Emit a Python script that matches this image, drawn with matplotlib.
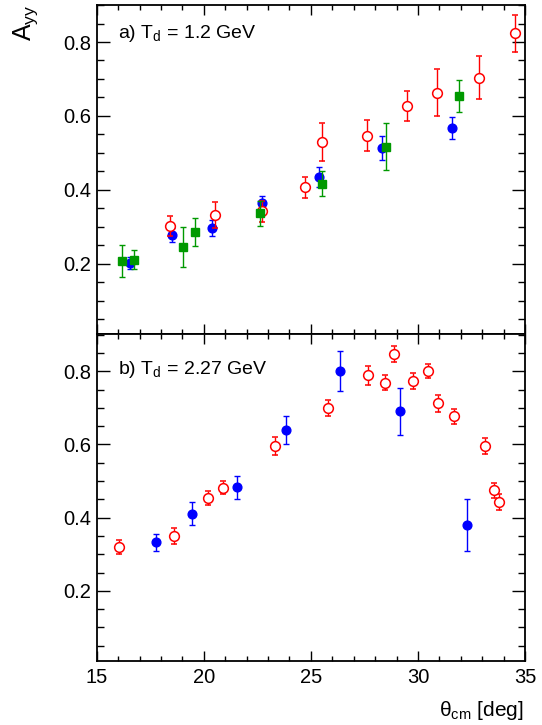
import matplotlib
matplotlib.use('Agg')
import matplotlib.pyplot as plt
from matplotlib.ticker import MultipleLocator

plt.rcParams['font.family'] = ['Liberation Sans', 'DejaVu Sans']
plt.rcParams['mathtext.fontset'] = 'custom'
plt.rcParams['mathtext.rm'] = 'Liberation Sans'
plt.rcParams['mathtext.it'] = 'Liberation Sans'
plt.rcParams['mathtext.bf'] = 'Liberation Sans:bold'

# ---------------- data: panel a) T_d = 1.2 GeV ----------------
a_blue_theta = [16.55, 18.52, 20.40, 22.70, 25.39, 28.32, 31.57]
a_blue_ayy = [0.202, 0.278, 0.296, 0.363, 0.434, 0.514, 0.567]
a_blue_err = [0.016, 0.020, 0.021, 0.021, 0.027, 0.033, 0.029]

a_red_theta = [18.44, 20.51, 22.70, 24.72, 25.53, 27.60, 29.50, 30.89, 32.86, 34.53]
a_red_ayy = [0.302, 0.331, 0.342, 0.407, 0.529, 0.546, 0.627, 0.663, 0.703, 0.824]
a_red_err = [0.028, 0.035, 0.028, 0.029, 0.052, 0.042, 0.041, 0.064, 0.058, 0.050]

a_green_theta = [16.20, 16.76, 19.04, 19.59, 22.61, 25.50, 28.51, 31.91]
a_green_ayy = [0.207, 0.211, 0.245, 0.287, 0.336, 0.417, 0.517, 0.654]
a_green_err = [0.044, 0.025, 0.054, 0.038, 0.034, 0.035, 0.063, 0.044]

# ---------------- data: panel b) T_d = 2.27 GeV ----------------
b_red_theta = [16.03, 18.62, 20.18, 20.91, 23.31, 25.78, 27.65, 28.46, 28.88,
               29.78, 30.45, 30.95, 31.68, 33.11, 33.56, 33.78]
b_red_ayy = [0.320, 0.349, 0.454, 0.482, 0.596, 0.700, 0.789, 0.769, 0.846,
             0.773, 0.801, 0.712, 0.677, 0.596, 0.475, 0.442]
b_red_err = [0.019, 0.022, 0.020, 0.018, 0.024, 0.021, 0.026, 0.020, 0.022,
             0.021, 0.020, 0.022, 0.020, 0.022, 0.020, 0.022]

b_blue_theta = [17.75, 19.46, 21.54, 23.84, 26.37, 29.15, 32.30]
b_blue_ayy = [0.333, 0.411, 0.483, 0.639, 0.800, 0.691, 0.380]
b_blue_err = [0.023, 0.032, 0.032, 0.039, 0.055, 0.064, 0.071]

panel_labels = [r'a) T$_{\rm d}$ = 1.2 GeV', r'b) T$_{\rm d}$ = 2.27 GeV']
xlabel = r'θ$_{\rm cm}$ [deg]'
ylabel = r'A$_{\rm yy}$'

RED = '#ff0000'
BLUE = '#0000ff'
GREEN = '#009900'

fig = plt.figure(figsize=(5.42, 7.25), dpi=100)
L, R = 96.7 / 542, 525 / 542
ax_a = fig.add_axes([L, 1 - 334.3 / 725, R - L, (334.3 - 4.7) / 725])
ax_b = fig.add_axes([L, 1 - 660.7 / 725, R - L, (660.7 - 334.3) / 725])


def draw_blue(ax, x, y, e):
    ax.errorbar(x, y, yerr=e, fmt='o', color=BLUE, ms=6.3, mec=BLUE, mfc=BLUE,
                elinewidth=1.0, capsize=2.2, capthick=1.0, zorder=3)


def draw_red(ax, x, y, e):
    ax.errorbar(x, y, yerr=e, fmt='o', color=RED, ms=7.0, mec=RED, mfc='white',
                mew=1.1, elinewidth=1.0, capsize=2.2, capthick=1.0, zorder=4)


def draw_green(ax, x, y, e):
    ax.errorbar(x, y, yerr=e, fmt='s', color=GREEN, ms=6.0, mec=GREEN, mfc=GREEN,
                elinewidth=1.0, capsize=2.2, capthick=1.0, zorder=5)


draw_blue(ax_a, a_blue_theta, a_blue_ayy, a_blue_err)
draw_red(ax_a, a_red_theta, a_red_ayy, a_red_err)
draw_green(ax_a, a_green_theta, a_green_ayy, a_green_err)

draw_red(ax_b, b_red_theta, b_red_ayy, b_red_err)
draw_blue(ax_b, b_blue_theta, b_blue_ayy, b_blue_err)

for ax, lab, ty in [(ax_a, panel_labels[0], 0.899), (ax_b, panel_labels[1], 0.8775)]:
    ax.set_xlim(15, 35)
    ax.set_ylim(0.009, 0.901)
    ax.xaxis.set_major_locator(MultipleLocator(5))
    ax.xaxis.set_minor_locator(MultipleLocator(1))
    ax.yaxis.set_major_locator(MultipleLocator(0.2))
    ax.yaxis.set_minor_locator(MultipleLocator(0.05))
    ax.tick_params(which='both', direction='in', top=True, right=True,
                   width=1.0, labelsize=14.5)
    ax.tick_params(axis='y', which='major', length=9.5, pad=4)
    ax.tick_params(axis='y', which='minor', length=5)
    ax.tick_params(axis='x', which='major', length=7.2, pad=5)
    ax.tick_params(axis='x', which='minor', length=3.6)
    ax.yaxis.set_major_formatter(matplotlib.ticker.FuncFormatter(lambda v, p: f'{v:.1f}'))
    for s in ax.spines.values():
        s.set_linewidth(1.3)
    ax.text(0.0497, ty, lab, transform=ax.transAxes, fontsize=14,
            ha='left', va='baseline')

ax_a.tick_params(axis='x', labelbottom=False)

fig.text(26 / 542, 1 - 5 / 725, ylabel, rotation=90, ha='center', va='top',
         fontsize=18)
fig.text(524 / 542, 1 - 716 / 725, xlabel, ha='right', va='baseline',
         fontsize=15)

fig.savefig('out.png', dpi=100)
